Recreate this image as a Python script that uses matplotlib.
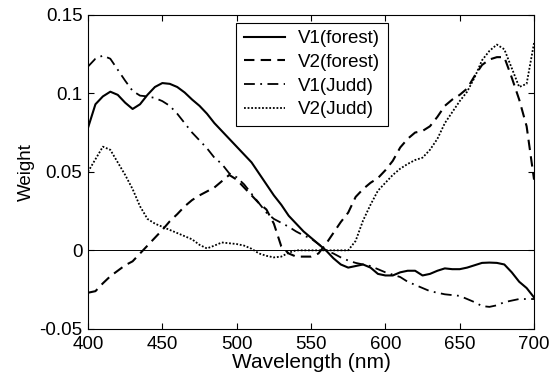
import matplotlib
matplotlib.use("Agg")
import matplotlib.pyplot as plt
import numpy as np

plt.rcParams['font.family'] = ['Liberation Sans', 'DejaVu Sans']

# wavelength grid (nm)
wavelength = np.arange(400, 701, 5)

v1_forest = [0.078, 0.093, 0.098, 0.101, 0.099, 0.094, 0.090, 0.093, 0.099, 0.104,
             0.1065, 0.106, 0.104, 0.1005, 0.096, 0.092, 0.087, 0.081, 0.076, 0.071,
             0.066, 0.061, 0.056, 0.049, 0.042, 0.035, 0.029, 0.022, 0.017, 0.012,
             0.008, 0.004, 0.0, -0.005, -0.009, -0.011, -0.010, -0.009, -0.011, -0.015,
             -0.016, -0.016, -0.014, -0.013, -0.013, -0.016, -0.015, -0.013, -0.0115, -0.012,
             -0.012, -0.011, -0.0095, -0.008, -0.0078, -0.008, -0.009, -0.014, -0.020, -0.024,
             -0.030]

v2_forest = [-0.027, -0.026, -0.021, -0.0165, -0.013, -0.0095, -0.007, -0.002, 0.003, 0.008,
             0.013, 0.0185, 0.023, 0.028, 0.032, 0.035, 0.0375, 0.040, 0.044, 0.048,
             0.045, 0.040, 0.035, 0.030, 0.026, 0.017, 0.0025, -0.002, -0.004, -0.004,
             -0.004, -0.002, 0.004, 0.011, 0.018, 0.024, 0.034, 0.039, 0.043, 0.046,
             0.051, 0.057, 0.0655, 0.071, 0.075, 0.076, 0.079, 0.085, 0.092, 0.096,
             0.099, 0.103, 0.111, 0.118, 0.1215, 0.123, 0.123, 0.110, 0.096, 0.079,
             0.045]

v1_judd = [0.117, 0.122, 0.124, 0.122, 0.115, 0.108, 0.1015, 0.0985, 0.098, 0.097,
           0.095, 0.092, 0.087, 0.081, 0.075, 0.070, 0.065, 0.059, 0.055, 0.049,
           0.0465, 0.042, 0.036, 0.030, 0.024, 0.020, 0.0175, 0.015, 0.012, 0.0095,
           0.0075, 0.004, 0.0, -0.002, -0.0045, -0.0065, -0.008, -0.009, -0.010, -0.012,
           -0.014, -0.0155, -0.017, -0.020, -0.022, -0.024, -0.026, -0.027, -0.028, -0.0285,
           -0.029, -0.031, -0.033, -0.0355, -0.036, -0.035, -0.033, -0.032, -0.031, -0.031,
           -0.031]

v2_judd = [0.050, 0.058, 0.066, 0.064, 0.056, 0.048, 0.039, 0.028, 0.020, 0.017,
           0.015, 0.013, 0.011, 0.009, 0.007, 0.0035, 0.0012, 0.003, 0.005, 0.0045,
           0.004, 0.003, 0.001, -0.002, -0.0035, -0.0045, -0.004, -0.0015, 0.0, 0.0,
           0.0, 0.0, 0.0, 0.0, 0.0, 0.0, 0.006, 0.019, 0.029, 0.038,
           0.043, 0.048, 0.052, 0.055, 0.0575, 0.059, 0.064, 0.071, 0.081, 0.088,
           0.095, 0.101, 0.110, 0.121, 0.127, 0.131, 0.128, 0.116, 0.104, 0.106,
           0.132]

fig = plt.figure(figsize=(5.5, 3.78), dpi=100)
ax = fig.add_axes([0.16, 0.13, 0.811, 0.831])

ax.axhline(0, color='black', linewidth=0.7)
ax.plot(wavelength, v1_forest, color='black', linestyle='-', linewidth=1.5, label='V1(forest)')
ax.plot(wavelength, v2_forest, color='black', linestyle=(0, (5, 3)), linewidth=1.5, label='V2(forest)')
ax.plot(wavelength, v1_judd, color='black', linestyle=(0, (6, 3, 1, 3)), linewidth=1.3, label='V1(Judd)')
ax.plot(wavelength, v2_judd, color='black', linestyle=(0, (1, 1)), linewidth=1.3, label='V2(Judd)')

ax.set_xlim(400, 700)
ax.set_ylim(-0.05, 0.15)
ax.set_xticks([400, 450, 500, 550, 600, 650, 700])
ax.set_yticks([-0.05, 0, 0.05, 0.1, 0.15])
ax.set_yticklabels(['-0.05', '0', '0.05', '0.1', '0.15'])
ax.tick_params(direction='in', top=True, right=True, labelsize=13.5, length=4, width=0.8)
ax.tick_params(axis='x', pad=5)
ax.tick_params(axis='y', pad=4)
for s in ax.spines.values():
    s.set_linewidth(0.8)

ax.set_xlabel('Wavelength (nm)', fontsize=15, labelpad=0)
ax.set_ylabel('Weight', fontsize=13.5, labelpad=3)

leg = ax.legend(loc='upper left', bbox_to_anchor=(0.332, 0.975), fontsize=13.5,
                frameon=True, fancybox=False, edgecolor='black', framealpha=1,
                handlelength=2.2, handletextpad=0.7, labelspacing=0.35,
                borderpad=0.4, borderaxespad=0)
leg.get_frame().set_linewidth(0.8)

fig.savefig('out.png', dpi=100)
